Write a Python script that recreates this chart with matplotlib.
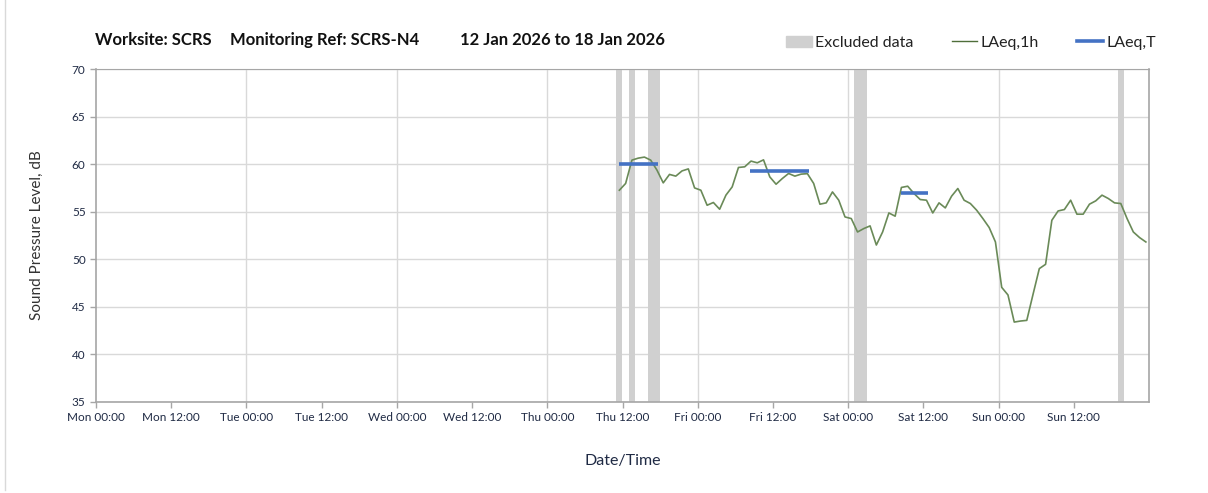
import matplotlib.pyplot as plt
import matplotlib.patches as mpatches
from matplotlib.lines import Line2D
import numpy as np

plt.rcParams['font.family'] = ['Lato', 'DejaVu Sans']

# hourly LAeq,1h values, first one centred on Thu 11:30 (hours since Mon 00:00)
start_hour = 83.5
laeq_1h = [57.26, 57.97, 60.42, 60.63, 60.74, 60.42, 59.37, 58.03, 58.92, 58.74,
           59.29, 59.5, 57.5, 57.26, 55.68, 55.97, 55.26, 56.74, 57.61, 59.65,
           59.72, 60.32, 60.14, 60.45, 58.66, 57.89, 58.49, 59.02, 58.74, 58.95,
           59.0, 57.97, 55.79, 55.93, 57.08, 56.21, 54.45, 54.28, 52.87, 53.23,
           53.51, 51.5, 52.87, 54.87, 54.53, 57.55, 57.68, 56.92, 56.28, 56.21,
           54.87, 55.93, 55.40, 56.63, 57.44, 56.21, 55.86, 55.16, 54.28, 53.34,
           51.82, 47.05, 46.25, 43.4, 43.51, 43.58, 46.32, 49.02, 49.47, 54.1,
           55.08, 55.23, 56.21, 54.74, 54.74, 55.79, 56.14, 56.74, 56.39, 55.93,
           55.86, 54.28, 52.87, 52.28, 51.82]

# LAeq,T periods: (start hour, end hour, level)
laeq_t_start = [83.5, 104.4, 128.5]
laeq_t_end = [89.7, 113.7, 132.7]
laeq_t_level = [60.0, 59.25, 56.95]

# excluded data periods (hours)
excl_start = [83, 85, 88, 121, 163]
excl_end = [84, 86, 90, 123, 164]

tick_labels = ['Mon 00:00', 'Mon 12:00', 'Tue 00:00', 'Tue 12:00', 'Wed 00:00',
               'Wed 12:00', 'Thu 00:00', 'Thu 12:00', 'Fri 00:00', 'Fri 12:00',
               'Sat 00:00', 'Sat 12:00', 'Sun 00:00', 'Sun 12:00']

title_parts = ['Worksite: SCRS', 'Monitoring Ref: SCRS-N4', '12 Jan 2026 to 18 Jan 2026']

hours = start_hour + np.arange(len(laeq_1h))

fig = plt.figure(figsize=(12.08, 4.93), dpi=100)
ax = fig.add_axes([96/1208, 1 - 402/493, (1149 - 96)/1208, (402 - 69)/493])

grid_c = '#d9d9d9'
spine_c = '#a6a6a6'

for s, e in zip(excl_start, excl_end):
    ax.axvspan(s, e, color='#d0d0d0', lw=0, zorder=1)

ax.plot(hours, laeq_1h, color='#6a8a58', lw=1.2, zorder=3)
for s, e, v in zip(laeq_t_start, laeq_t_end, laeq_t_level):
    ax.plot([s, e], [v, v], color='#4472c4', lw=2.6, solid_capstyle='butt', zorder=4)

ax.set_xlim(0, 168)
ax.set_ylim(35, 70)
ax.set_xticks(np.arange(0, 168, 12))
ax.set_xticklabels(tick_labels)
ax.set_yticks(np.arange(35, 71, 5))
ax.tick_params(axis='both', labelsize=8.5, length=4, width=1, color=spine_c,
               labelcolor='#1f2a44')

ax.set_axisbelow(True)
ax.grid(axis='y', color=grid_c, lw=1)
for d in range(24, 168, 24):
    ax.axvline(d, color=grid_c, lw=1, zorder=0)
for side in ['left', 'bottom', 'right']:
    ax.spines[side].set_color(spine_c)
    ax.spines[side].set_linewidth(1.2)
ax.spines['top'].set_color(spine_c)

ax.set_ylabel('Sound Pressure Level, dB', fontsize=11, color='#333333', labelpad=20)
ax.set_xlabel('Date/Time', fontsize=11.5, color='#1f2a44', labelpad=22)

for txt, xp in zip(title_parts, [95, 230, 460]):
    fig.text(xp/1208, 1 - 40/493, txt, fontsize=12, fontweight='bold',
             va='center', ha='left', color='#111111')

handles = [mpatches.Patch(color='#d0d0d0', label='Excluded data'),
           Line2D([], [], color='#4f6e3a', lw=1, label='LAeq,1h'),
           Line2D([], [], color='#4472c4', lw=2.6, label='LAeq,T')]
fig.legend(handles=handles, loc='center right', bbox_to_anchor=(1170/1208, 1 - 43/493),
           ncol=3, frameon=False, fontsize=11.5, handlelength=1.6, handletextpad=0.2,
           columnspacing=2.4, labelcolor='#222222')

fig.add_artist(Line2D([5/1208, 5/1208], [3/493, 1], color='#d9d9d9', lw=1))

fig.savefig('out.png', dpi=100)
